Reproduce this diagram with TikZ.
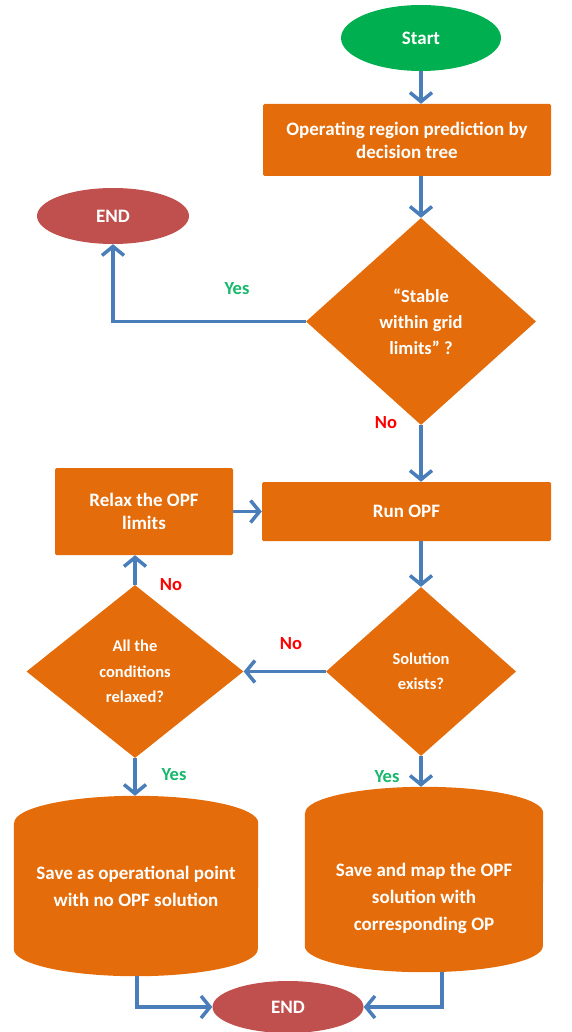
\documentclass[tikz,border=0pt]{standalone}
\usepackage{fontspec}
\setmainfont{Carlito}
\usetikzlibrary{arrows.meta,shapes.geometric,backgrounds}

\definecolor{flowOrange}{HTML}{E46C0A}
\definecolor{startGreen}{HTML}{00B050}
\definecolor{endRed}{HTML}{C0504D}
\definecolor{linkBlue}{HTML}{4A7EBB}
\definecolor{yesGreen}{HTML}{16B86C}
\definecolor{noRed}{HTML}{FF0000}

% filled drum shape behind a node: #1 node name, #2 half width, #3 cap radius
\newcommand\drumbody[3]{%
  \fill[flowOrange]
    ([yshift=-#3]#1.north west) -- ([yshift=#3]#1.south west)
    arc[start angle=180, end angle=360, x radius=#2, y radius=#3]
    -- ([yshift=-#3]#1.north east)
    arc[start angle=0, end angle=180, x radius=#2, y radius=#3] -- cycle;}

\begin{document}
\begin{tikzpicture}[x=1pt, y=-1pt,
  every node/.style={font=\bfseries\fontsize{19}{23}\selectfont, text=white,
    inner sep=0pt, align=center},
  terminal/.style={ellipse},
  procbox/.style={rectangle, fill=flowOrange, rounded corners=1.5pt},
  decision/.style={diamond, fill=flowOrange},
  drum/.style={rectangle, font=\bfseries\fontsize{19}{27}\selectfont},
  smalltext/.style={font=\bfseries\fontsize{16.5}{25.5}\selectfont},
  yeslabel/.style={text=yesGreen, font=\bfseries\fontsize{18.5}{20}\selectfont},
  nolabel/.style={text=noRed, font=\bfseries\fontsize{18.5}{20}\selectfont},
  link/.style={draw=linkBlue, line width=3.5pt,
    -{Straight Barb[length=9pt, width=22pt]}},
]
\useasboundingbox (0,0) rectangle (571,1032);

% shapes
\node[terminal, fill=startGreen, minimum width=160pt, minimum height=66pt]
  (start) at (421,38) {Start};
\node[procbox, minimum width=288pt, minimum height=72pt]
  (predict) at (407,140) {Operating region prediction by\\decision tree};
\node[decision, minimum width=230pt, minimum height=207pt,
  font=\bfseries\fontsize{18.5}{26}\selectfont]
  (stable) at (421,321.5) {“Stable\\within grid\\limits” ?};
\node[terminal, fill=endRed, minimum width=152pt, minimum height=56pt]
  (endTop) at (113,216) {END};
\node[procbox, minimum width=289pt, minimum height=59pt]
  (runopf) at (406.5,511.5) {Run OPF};
\node[procbox, minimum width=178pt, minimum height=87pt]
  (relax) at (144,511.5) {Relax the OPF\\limits};
\node[decision, smalltext, minimum width=190pt, minimum height=169pt]
  (exists) at (421,671.5) {Solution\\exists?};
\node[decision, smalltext, minimum width=217pt, minimum height=173pt]
  (allrelaxed) at (135,671.5) {All the\\conditions\\relaxed?};
\node[drum, minimum width=244pt, minimum height=180pt]
  (saveNo) at (136,886) {Save as operational point\\with no OPF solution};
\node[drum, minimum width=238pt, minimum height=185pt]
  (saveMap) at (424,879.5) {};
\node[drum] (saveMapText) at (424,898)
  {Save and map the OPF\\solution with\\corresponding OP};
\node[terminal, fill=endRed, minimum width=151pt, minimum height=52pt]
  (endBottom) at (288,1007) {END};

\begin{scope}[on background layer]
  \drumbody{saveNo}{122pt}{27pt}
  \drumbody{saveMap}{119pt}{26pt}
\end{scope}

% connectors
\draw[link] (start.south) -- (start.south |- predict.north);
\draw[link] (predict.south -| stable.north) -- (stable.north);
\draw[link] (stable.west) -| (endTop.south);
\draw[link] (stable.south) -- (stable.south |- runopf.north);
\draw[link] (relax.east) -- (runopf.west);
\draw[link] (runopf.south -| exists.north) -- (exists.north);
\draw[link] (exists.west) -- (allrelaxed.east);
\draw[link] (allrelaxed.north) -- (allrelaxed.north |- relax.south);
\draw[link] (allrelaxed.south) -- (allrelaxed.south |- saveNo.north);
\draw[link] (exists.south) -- (exists.south |- saveMap.north);
\draw[link] ([xshift=1pt]saveNo.south) |- (endBottom.west);
\draw[link] ([xshift=18pt]saveMap.south) |- (endBottom.east);

% branch labels
\node[yeslabel] (yesStable) at (237,289) {Yes};
\node[nolabel] (noStable) at (386,423) {No};
\node[nolabel] (noExists) at (291,644) {No};
\node[nolabel] (noRelaxed) at (171,585) {No};
\node[yeslabel] (yesRelaxed) at (174,775) {Yes};
\node[yeslabel] (yesExists) at (387,777) {Yes};
\end{tikzpicture}
\end{document}
